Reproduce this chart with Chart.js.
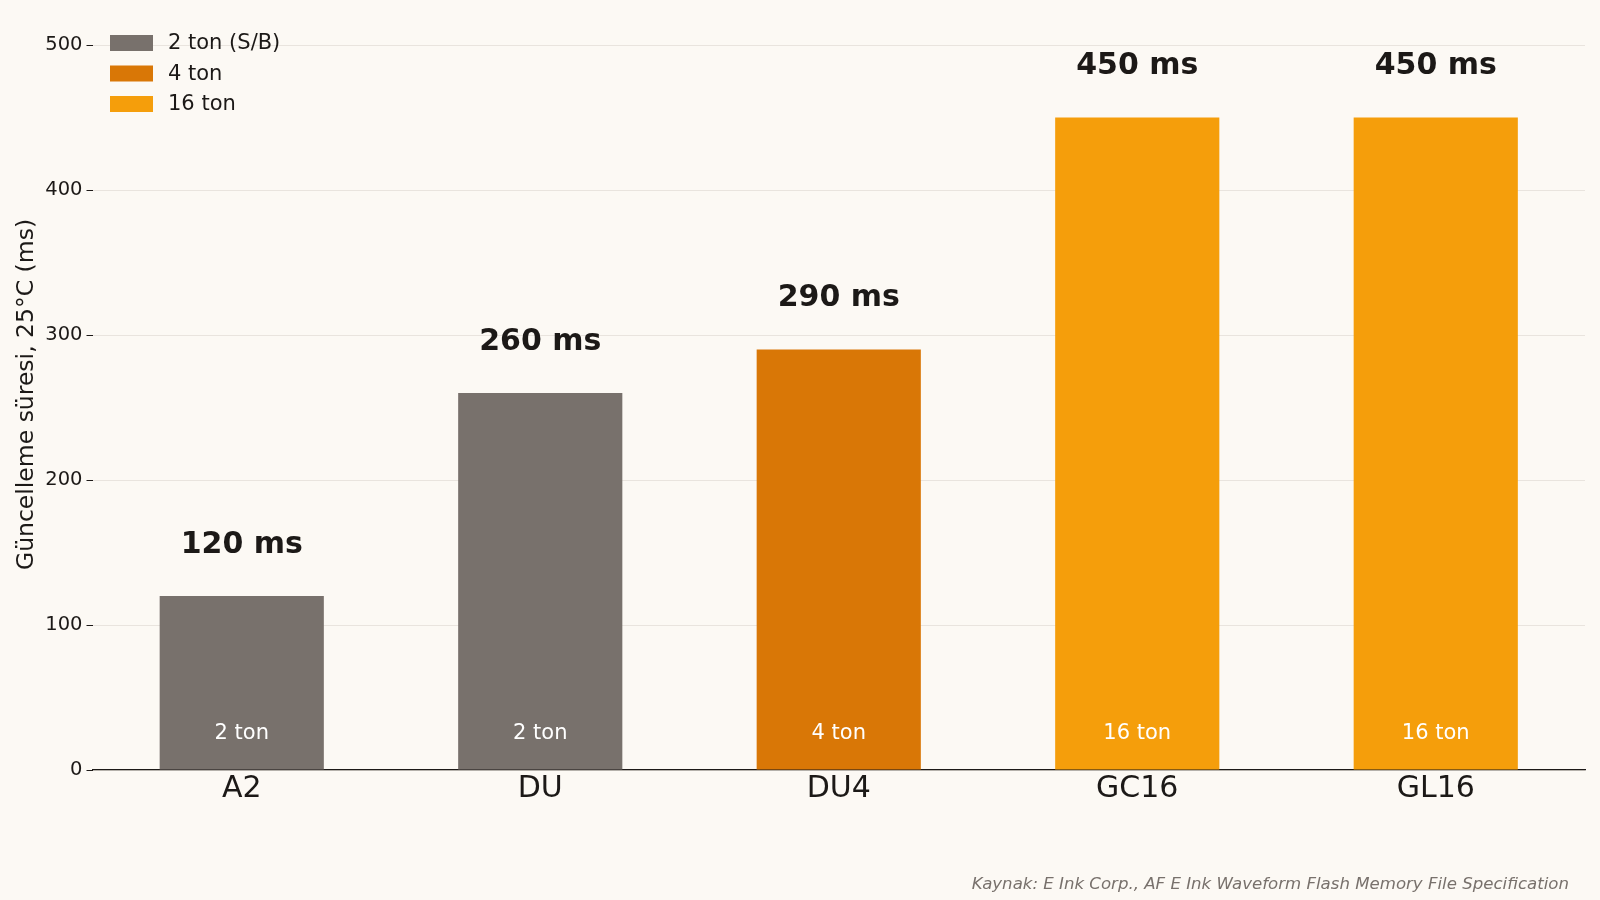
<!DOCTYPE html>
<html>
<head>
  <title>Waveform update times</title>
  <script src="https://cdn.jsdelivr.net/npm/chart.js"></script>
  <style>
    body {
      margin: 0;
      background: #fcf9f4;
    }
    #wrap {
      width: 1600px;
      height: 900px;
      position: relative;
    }
  </style>
</head>
<body>
  <div id="wrap">
    <canvas id="modesChart" width="1600" height="900"></canvas>
  </div>

  <script>
    // data
    const modes = ['A2', 'DU', 'DU4', 'GC16', 'GL16'];
    const updateMs = [120, 260, 290, 450, 450];
    const toneLabels = ['2 ton', '2 ton', '4 ton', '16 ton', '16 ton'];
    const barColors = ['#78716c', '#78716c', '#d97706', '#f59e0b', '#f59e0b'];
    const legendLabels = ['2 ton (S/B)', '4 ton', '16 ton'];
    const legendColors = ['#78716c', '#d97706', '#f59e0b'];
    const yTicks = [0, 100, 200, 300, 400, 500];
    const sourceNote = 'Kaynak: E Ink Corp., AF E Ink Waveform Flash Memory File Specification';

    const FONT = "'DejaVu Sans', sans-serif";

    const bg = {
      id: 'bg',
      beforeDraw(chart) {
        const c = chart.ctx;
        c.save();
        c.fillStyle = '#fcf9f4';
        c.fillRect(0, 0, chart.width, chart.height);
        c.restore();
      }
    };

    // value labels above bars, tone labels inside, legend and source note
    const extras = {
      id: 'extras',
      afterDatasetsDraw(chart) {
        const c = chart.ctx;
        const meta = chart.getDatasetMeta(0);
        const y0 = chart.scales.y.getPixelForValue(0);
        c.save();
        c.textAlign = 'center';
        c.textBaseline = 'middle';
        meta.data.forEach((bar, i) => {
          c.fillStyle = '#1c1917';
          c.font = 'bold 30px ' + FONT;
          c.fillText(updateMs[i] + ' ms', bar.x, bar.y - 51);
          c.fillStyle = '#ffffff';
          c.font = '21px ' + FONT;
          c.fillText(toneLabels[i], bar.x, y0 - 36);
        });

        // legend
        c.textAlign = 'left';
        legendLabels.forEach((lab, i) => {
          const cy = 43 + i * 30.5;
          c.fillStyle = legendColors[i];
          c.fillRect(110, cy - 8, 43, 16);
          c.fillStyle = '#1c1917';
          c.font = '21px ' + FONT;
          c.fillText(lab, 168, cy + 1);
        });

        // source
        c.textAlign = 'right';
        c.fillStyle = '#78716c';
        c.font = 'italic 16.6px ' + FONT;
        c.fillText(sourceNote, 1569, 885);
        c.restore();
      }
    };

    new Chart(document.getElementById('modesChart'), {
      type: 'bar',
      data: {
        labels: modes,
        datasets: [{
          data: updateMs,
          backgroundColor: barColors,
          categoryPercentage: 1,
          barPercentage: 0.55
        }]
      },
      options: {
        responsive: false,
        animation: false,
        devicePixelRatio: 1,
        layout: { padding: { left: 0, right: 15, top: 19, bottom: 0 } },
        plugins: {
          legend: { display: false },
          tooltip: { enabled: false }
        },
        scales: {
          x: {
            grid: { display: false, drawTicks: false },
            border: { display: true, color: '#1c1917', width: 1.2 },
            ticks: { color: '#1c1917', font: { family: FONT, size: 30 }, padding: 1 },
            afterFit(s) { s.height = 130; }
          },
          y: {
            min: 0,
            max: 518,
            afterBuildTicks(s) { s.ticks = yTicks.map(v => ({ value: v })); },
            grid: { color: '#e9e4de', lineWidth: 1, tickColor: '#1c1917', tickLength: 6 },
            border: { display: false },
            ticks: { color: '#1c1917', font: { family: FONT, size: 19.5 }, padding: 4 },
            title: {
              display: true,
              text: 'Güncelleme süresi, 25°C (ms)',
              color: '#1c1917',
              font: { family: FONT, size: 23.5 },
              padding: { top: 13, bottom: 0 }
            },
            afterFit(s) { s.width = 92.5; }
          }
        }
      },
      plugins: [bg, extras]
    });
  </script>
</body>
</html>
